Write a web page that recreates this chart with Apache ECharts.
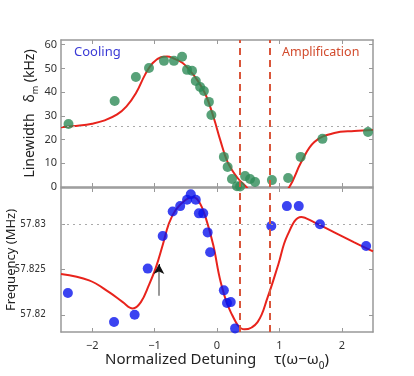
<!DOCTYPE html>
<html>
<head>
<meta charset="utf-8">
<script src="https://cdn.jsdelivr.net/npm/echarts@6/dist/echarts.min.js"></script>
<style>
  html, body { margin: 0; padding: 0; background: #fff; }
  #chart { width: 414px; height: 376px; }
</style>
</head>
<body>
<div id="chart"></div>
<script>
// top panel: linewidth (kHz) vs normalized detuning
var lwPoints = [
  [-2.38, 26.6], [-1.64, 36.3], [-1.30, 46.4], [-1.09, 50.2], [-0.85, 53.2],
  [-0.69, 53.2], [-0.56, 54.9], [-0.48, 49.4], [-0.40, 49.0], [-0.34, 44.7],
  [-0.27, 42.2], [-0.21, 40.5], [-0.13, 35.9], [-0.09, 30.4], [0.11, 12.7],
  [0.17, 8.4], [0.24, 3.4], [0.32, 0.3], [0.37, 0.2], [0.45, 4.6],
  [0.53, 3.4], [0.61, 2.1], [0.88, 2.9], [1.14, 3.8], [1.34, 12.7],
  [1.69, 20.3], [2.42, 23.2]
];
var lwFit = [
  [-2.5, 25.2], [-2.2, 25.9], [-2.0, 26.7], [-1.8, 28.1], [-1.6, 30.6],
  [-1.45, 34.0], [-1.3, 39.5], [-1.15, 47.5], [-1.03, 52.3], [-0.9, 54.7],
  [-0.8, 55.0], [-0.7, 54.3], [-0.55, 52.3], [-0.45, 49.5], [-0.34, 46.0],
  [-0.18, 38.8], [-0.05, 29.0], [0.05, 20.0], [0.17, 10.5], [0.33, 3.8],
  [0.47, 0.0], [0.6, -4], [0.8, -7], [1.0, -4], [1.16, 0.0],
  [1.35, 10.5], [1.56, 19.0], [1.88, 22.8], [2.2, 23.6], [2.5, 24.0]
];
var lwBaseline = 25.7;

// bottom panel: frequency (MHz)
var fqPoints = [
  [-2.39, 57.8224], [-1.65, 57.8192], [-1.32, 57.8200], [-1.11, 57.8251],
  [-0.87, 57.8287], [-0.71, 57.8314], [-0.59, 57.8320], [-0.48, 57.8327],
  [-0.42, 57.8333], [-0.34, 57.8327], [-0.29, 57.8312], [-0.22, 57.8312],
  [-0.15, 57.8291], [-0.11, 57.8269], [0.11, 57.8227], [0.16, 57.8213],
  [0.22, 57.8214], [0.29, 57.8185], [0.87, 57.8298], [1.12, 57.8320],
  [1.31, 57.8320], [1.65, 57.8300], [2.39, 57.8276]
];
var fqFit = [
  [-2.5, 57.8245], [-2.05, 57.8238], [-1.73, 57.8225], [-1.51, 57.8214],
  [-1.35, 57.8207], [-1.22, 57.8214], [-1.09, 57.8233], [-0.98, 57.8252],
  [-0.87, 57.8277], [-0.77, 57.8301], [-0.66, 57.8316], [-0.5, 57.8327],
  [-0.39, 57.8330], [-0.29, 57.8325], [-0.18, 57.8307], [-0.06, 57.8277],
  [0.06, 57.8236], [0.22, 57.8203], [0.44, 57.8184], [0.65, 57.8192],
  [0.81, 57.8219], [0.98, 57.8255], [1.13, 57.8288], [1.35, 57.8308],
  [1.56, 57.8302], [1.88, 57.8291], [2.2, 57.8280], [2.5, 57.8270]
];
var fqBaseline = 57.8259;

var xTicks = [-2, -1, 0, 1, 2];
var lwTicks = [0, 10, 20, 30, 40, 50, 60];
var fqTicks = [57.82, 57.825, 57.83];
var dashLines = [0.374, 0.85];
var arrowX = -0.93, arrowFrom = 57.8221, arrowTo = 57.8256;

var axisGray = '#999';
var fitRed = '#e8231c';
var dashRed = '#d9553a';
var fontFam = 'Noto Sans, Liberation Sans, sans-serif';
var narrowFam = 'Liberation Sans Narrow, DejaVu Sans Condensed, Liberation Sans, sans-serif';

function boxAxis(grid, pos, min, max, ticks) {
  return {
    type: 'value', gridIndex: grid, position: pos, min: min, max: max,
    nameMoveOverlap: false,
    axisLine: { show: true, onZero: false, lineStyle: { color: axisGray, width: 1.5 } },
    axisTick: { show: true, inside: true, length: 4, customValues: ticks, lineStyle: { color: axisGray } },
    axisLabel: { show: false },
    splitLine: { show: false }
  };
}

function dashMark() {
  return {
    silent: true, symbol: 'none', label: { show: false },
    lineStyle: { color: dashRed, type: [7, 5], width: 2 },
    data: dashLines.map(function (v) { return { xAxis: v }; })
  };
}

function baseMark(v) {
  return {
    silent: true, symbol: 'none', label: { show: false },
    lineStyle: { color: '#aaa', type: [2, 4], width: 1 },
    data: [{ yAxis: v }]
  };
}

var chart = echarts.init(document.getElementById('chart'));

var xBottom = boxAxis(1, 'bottom', -2.5, 2.5, xTicks);
xBottom.axisLabel = {
  show: true, customValues: xTicks, margin: 8, color: '#333', fontSize: 11, fontFamily: fontFam,
  formatter: function (v) { return v < 0 ? '\u2212' + Math.abs(v) : String(v); }
};
xBottom.name = '{a|Normalized Detuning}{gap|}{a|\u03c4(\u03c9\u2212\u03c9}{sub|0}{a|)}';
xBottom.nameLocation = 'middle';
xBottom.nameGap = 17;
xBottom.nameTextStyle = {
  rich: {
    a: { fontSize: 15, color: '#222', fontFamily: fontFam },
    gap: { width: 18 },
    sub: { fontSize: 10, color: '#222', fontFamily: fontFam, padding: [12, 0, 0, 0] }
  }
};

var yTop = boxAxis(0, 'left', 0, 62, lwTicks);
yTop.axisLabel = { show: true, customValues: lwTicks, margin: 4, color: '#333', fontSize: 11, fontFamily: fontFam };
yTop.name = 'Linewidth   \u03b4{sub|m} (kHz)';
yTop.nameLocation = 'middle';
yTop.nameGap = 21;
yTop.nameTextStyle = {
  fontSize: 14, color: '#222', fontFamily: fontFam,
  rich: { sub: { fontSize: 9, color: '#222', fontFamily: fontFam, padding: [10, 0, 0, 0] } }
};

var yBot = boxAxis(1, 'left', 57.8181, 57.834, fqTicks);
yBot.axisLabel = { show: true, customValues: fqTicks, margin: 15, color: '#333', fontSize: 10, fontFamily: narrowFam };
yBot.name = 'Frequency (MHz)';
yBot.nameLocation = 'middle';
yBot.nameGap = 43;
yBot.nameTextStyle = { fontSize: 13, color: '#222', fontFamily: fontFam };

var option = {
  backgroundColor: '#fff',
  animation: false,
  textStyle: { fontFamily: fontFam },
  grid: [
    { left: 61, top: 40, width: 312, height: 147, outerBoundsMode: 'none', containLabel: false },
    { left: 61, top: 188, width: 312, height: 144, outerBoundsMode: 'none', containLabel: false }
  ],
  xAxis: [
    boxAxis(0, 'bottom', -2.5, 2.5, xTicks),
    xBottom,
    boxAxis(0, 'top', -2.5, 2.5, xTicks),
    boxAxis(1, 'top', -2.5, 2.5, xTicks)
  ],
  yAxis: [
    yTop,
    yBot,
    boxAxis(0, 'right', 0, 62, lwTicks),
    boxAxis(1, 'right', 57.8181, 57.834, fqTicks)
  ],
  graphic: [
    { type: 'text', left: 74, top: 46, style: { text: 'Cooling', fill: '#3a3ad6', font: '13px ' + fontFam } },
    { type: 'text', left: 282, top: 46, style: { text: 'Amplification', fill: '#d24a2c', font: '12.5px ' + fontFam } }
  ],
  series: [
    {
      type: 'line', xAxisIndex: 0, yAxisIndex: 0, data: lwFit, smooth: 0.4,
      showSymbol: false, clip: true, lineStyle: { color: fitRed, width: 2 }, z: 3,
      markLine: baseMark(lwBaseline)
    },
    { type: 'line', xAxisIndex: 0, yAxisIndex: 0, data: [], markLine: dashMark(), z: 2 },
    {
      type: 'scatter', xAxisIndex: 0, yAxisIndex: 0, data: lwPoints, symbolSize: 10,
      itemStyle: { color: '#2e8b57' }, z: 4
    },
    {
      type: 'line', xAxisIndex: 1, yAxisIndex: 1, data: fqFit, smooth: 0.4,
      showSymbol: false, clip: true, lineStyle: { color: fitRed, width: 2 }, z: 3,
      markLine: baseMark(fqBaseline)
    },
    { type: 'line', xAxisIndex: 1, yAxisIndex: 1, data: [], markLine: dashMark(), z: 2 },
    {
      type: 'scatter', xAxisIndex: 1, yAxisIndex: 1, data: fqPoints, symbolSize: 10,
      itemStyle: { color: '#0a14ee' }, z: 4
    },
    {
      type: 'line', xAxisIndex: 1, yAxisIndex: 1, data: [], z: 5,
      markLine: {
        silent: true, label: { show: false }, symbol: 'none',
        lineStyle: { color: '#999', type: 'solid', width: 2 },
        data: [[{ coord: [arrowX, arrowFrom] }, { coord: [arrowX, arrowTo - 0.0004] }]]
      }
    },
    {
      type: 'line', xAxisIndex: 1, yAxisIndex: 1, data: [], z: 6,
      markLine: {
        silent: true, label: { show: false }, symbol: ['none', 'arrow'], symbolSize: [8, 10],
        lineStyle: { color: '#111', type: 'solid', width: 1 },
        data: [[{ coord: [arrowX, arrowTo - 0.0005] }, { coord: [arrowX, arrowTo] }]]
      }
    }
  ]
};

chart.setOption(option);
</script>
</body>
</html>
